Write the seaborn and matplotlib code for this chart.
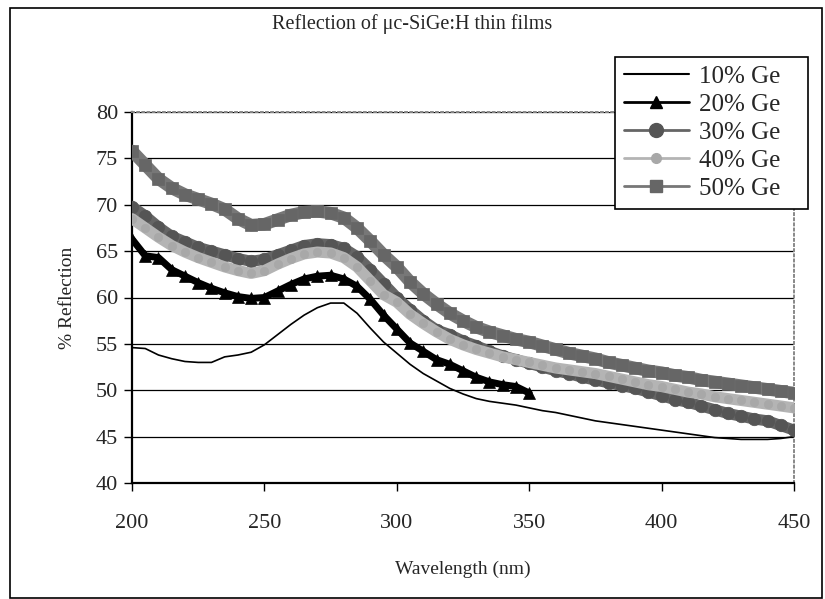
import numpy as np
import pandas as pd
import matplotlib
matplotlib.use("Agg")
import matplotlib.pyplot as plt
from matplotlib.lines import Line2D
from matplotlib.patches import Rectangle
import seaborn as sns

# ---- data ----
wl_full = list(range(200, 455, 5))
wl_20 = list(range(200, 355, 5))

ge10 = [54.6, 54.5, 53.8, 53.4, 53.1, 53.0, 53.0, 53.6, 53.8, 54.1,
        54.9, 56.0, 57.1, 58.1, 58.9, 59.4, 59.4, 58.3, 56.7, 55.2,
        54.0, 52.8, 51.8, 51.0, 50.2, 49.6, 49.1, 48.8, 48.6, 48.4,
        48.1, 47.8, 47.6, 47.3, 47.0, 46.7, 46.5, 46.3, 46.1, 45.9,
        45.7, 45.5, 45.3, 45.1, 44.9, 44.8, 44.7, 44.7, 44.7, 44.8,
        45.0]
ge20 = [66.3, 64.5, 64.3, 63.0, 62.3, 61.6, 61.0, 60.5, 60.1, 59.9,
        60.0, 60.7, 61.4, 62.0, 62.3, 62.4, 62.0, 61.2, 59.8, 58.1,
        56.6, 55.1, 54.2, 53.3, 52.8, 52.1, 51.4, 50.9, 50.6, 50.4,
        49.7]
ge30 = [69.8, 68.8, 67.6, 66.6, 66.0, 65.4, 65.0, 64.6, 64.2, 63.9,
        64.1, 64.6, 65.1, 65.6, 65.8, 65.7, 65.3, 64.4, 63.0, 61.5,
        60.0, 58.7, 57.5, 56.5, 56.0, 55.3, 54.8, 54.2, 53.7, 53.3,
        52.9, 52.5, 52.1, 51.8, 51.4, 51.1, 50.8, 50.5, 50.2, 49.8,
        49.4, 49.0, 48.7, 48.3, 47.9, 47.5, 47.2, 46.9, 46.7, 46.2,
        45.7]
ge40 = [68.5, 67.5, 66.5, 65.6, 64.9, 64.3, 63.8, 63.3, 62.9, 62.6,
        62.9, 63.6, 64.2, 64.7, 64.9, 64.8, 64.3, 63.3, 61.8, 60.3,
        59.5, 58.2, 57.2, 56.3, 55.5, 54.9, 54.4, 54.0, 53.6, 53.3,
        53.0, 52.7, 52.4, 52.2, 52.0, 51.8, 51.5, 51.2, 50.9, 50.6,
        50.4, 50.1, 49.8, 49.6, 49.3, 49.1, 48.9, 48.7, 48.5, 48.3,
        48.1]
ge50 = [75.8, 74.3, 72.8, 71.8, 71.1, 70.6, 70.1, 69.5, 68.5, 67.8,
        67.9, 68.4, 68.9, 69.2, 69.3, 69.1, 68.6, 67.5, 66.1, 64.6,
        63.3, 61.7, 60.4, 59.3, 58.3, 57.5, 56.8, 56.3, 55.9, 55.5,
        55.2, 54.8, 54.4, 54.0, 53.7, 53.4, 53.0, 52.7, 52.4, 52.1,
        51.9, 51.6, 51.4, 51.1, 50.9, 50.7, 50.5, 50.3, 50.1, 49.9,
        49.7]

labels = ["10% Ge", "20% Ge", "30% Ge", "40% Ge", "50% Ge"]
title = "Reflection of \u03bcc-SiGe:H thin films"
xlabel = "Wavelength (nm)"
ylabel = "% Reflection"
xticks = [200, 250, 300, 350, 400, 450]
yticks = [40, 45, 50, 55, 60, 65, 70, 75, 80]

# ---- style ----
sns.set_style("white")
plt.rcParams["font.family"] = ["Liberation Serif", "DejaVu Serif"]

fig = plt.figure(figsize=(8.25, 5.99), dpi=100)
ax = fig.add_axes([132 / 825, 1 - 483 / 599, (794 - 132) / 825, (483 - 112) / 599])

styles = [
    dict(color="black", lw=1.2, marker=None, ms=0, mfc="black"),
    dict(color="black", lw=5, marker="^", ms=8, mfc="black"),
    dict(color="#656565", lw=8, marker="o", ms=9, mfc="#555555"),
    dict(color="#b4b4b4", lw=8, marker="o", ms=6, mfc="#a8a8a8"),
    dict(color="#777777", lw=9, marker="s", ms=8, mfc="#666666"),
]
series = [(wl_full, ge10), (wl_20, ge20), (wl_full, ge30), (wl_full, ge40), (wl_full, ge50)]

order = [0, 1, 3, 2, 4]
for i in order:
    x, y = series[i]
    st = styles[i]
    df = pd.DataFrame({"wl": x, "R": y})
    sns.lineplot(data=df, x="wl", y="R", ax=ax, color=st["color"], lw=st["lw"],
                 marker=st["marker"], markersize=st["ms"], markerfacecolor=st["mfc"],
                 markeredgecolor=st["mfc"], markeredgewidth=0.5, zorder=3 + i,
                 legend=False)

ax.set_xlim(200, 450)
ax.set_ylim(40, 80)
ax.set_xticks(xticks)
ax.set_yticks(yticks)
ax.yaxis.grid(True, color="black", lw=0.9)
ax.xaxis.grid(False)
ax.set_axisbelow(True)

ax.tick_params(axis="both", which="major", labelsize=16, direction="out",
               length=6, width=1, color="black", left=True, bottom=True)
ax.tick_params(axis="x", pad=16)
ax.tick_params(axis="y", pad=4)
ax.set_xlabel(xlabel, fontsize=14, labelpad=20)
ax.set_ylabel(ylabel, fontsize=14, labelpad=14)

for s in ["left", "bottom"]:
    ax.spines[s].set_color("black")
    ax.spines[s].set_linewidth(1.6)
for s in ["top", "right"]:
    ax.spines[s].set_color("#888888")
    ax.spines[s].set_linewidth(1.4)
    ax.spines[s].set_linestyle(":")

fig.text(0.5, 1 - 24 / 599, title, ha="center", va="center", fontsize=14.5)

handles = []
for i in range(5):
    st = styles[i]
    handles.append(Line2D([0], [0], color=st["color"], lw=2 if i != 0 else 1.5,
                          marker=st["marker"], markersize=st["ms"] + 1,
                          markerfacecolor=st["mfc"], markeredgecolor=st["mfc"]))
leg = fig.legend(handles, labels, loc="upper left",
                 bbox_to_anchor=(615 / 825, 1 - 211 / 599, 193 / 825, 154 / 599),
                 mode="expand",
                 fontsize=18, frameon=True, fancybox=False, shadow=False,
                 framealpha=1, edgecolor="black", handlelength=2.6,
                 handletextpad=0.4, labelspacing=0.22, borderpad=0.35,
                 borderaxespad=0, numpoints=1)
leg.get_frame().set_linewidth(1.2)
leg.set_zorder(20)

fig.patches.append(Rectangle((10 / 825, 1 / 599), 812 / 825, 590 / 599,
                             transform=fig.transFigure, fill=False,
                             edgecolor="black", lw=1.2))

fig.savefig("out.png", dpi=100)
